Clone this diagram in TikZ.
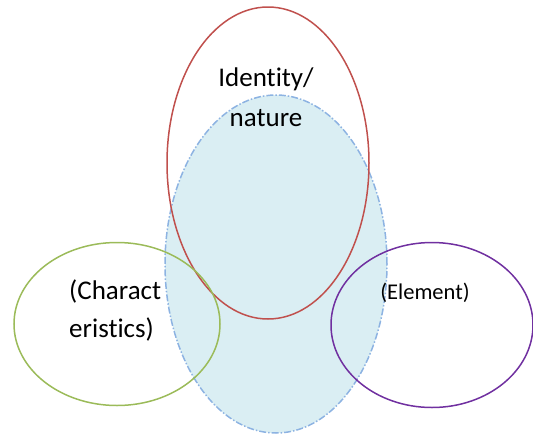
\documentclass[tikz,border=0pt]{standalone}
\usepackage{fontspec}
\setmainfont{Carlito}[Ligatures=NoCommon]
\usetikzlibrary{shapes.geometric}
\definecolor{redline}{HTML}{C0504D}
\definecolor{bluefill}{HTML}{DAEEF3}
\definecolor{blueline}{HTML}{8DB3E2}
\definecolor{greenline}{HTML}{9BBB59}
\definecolor{purpleline}{HTML}{7030A0}
\tikzset{
  oval/.style={ellipse, inner sep=0pt, line width=1.5pt},
  lbl/.style={font=\fontsize{27}{30}\selectfont, inner sep=0pt, align=center},
  smalllbl/.style={font=\fontsize{22.5}{25}\selectfont, inner sep=0pt}
}
\begin{document}
\begin{tikzpicture}[x=1pt,y=-1pt]
\useasboundingbox (0,0) rectangle (533,437);
\node[oval, fill=bluefill, draw=blueline, dash pattern=on 7pt off 2pt on 1.5pt off 2pt,
      minimum width=222pt, minimum height=338pt] (core) at (276,264) {};
\node[oval, draw=redline, minimum width=202pt, minimum height=312pt] (identity) at (268,163) {};
\node[oval, draw=greenline, minimum width=206pt, minimum height=163pt] (charac) at (117,324) {};
\node[oval, draw=purpleline, minimum width=202pt, minimum height=165pt] (element) at (432,325) {};
\node[lbl] (t1) at (266,79) {Identity/};
\node[lbl] (t2) at (266,118) {nature};
\node[lbl, anchor=west] (t3) at (69,291) {(Charact};
\node[lbl, anchor=west] (t4) at (69,329) {eristics)};
\node[smalllbl] (t5) at (425,293) {(Element)};
\end{tikzpicture}
\end{document}
